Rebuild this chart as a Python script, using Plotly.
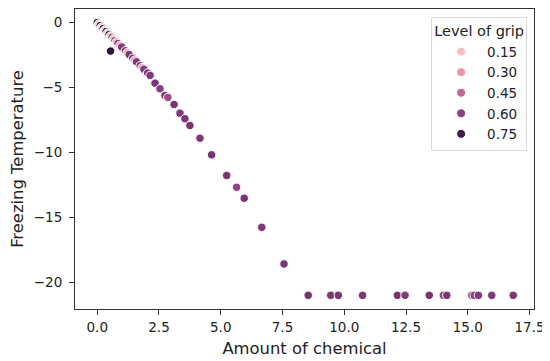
import plotly.graph_objects as go

# ---- data ----
amount = [
    0.00,
    0.06, 0.12, 0.18, 0.24, 0.30, 0.36, 0.42, 0.48, 0.54, 0.60, 0.66, 0.72, 0.78,
    0.84, 0.92, 0.99, 1.14, 1.22, 1.29, 1.44, 1.52, 1.59, 1.74, 1.82, 1.89, 2.04,
    0.54,
    2.14, 2.34, 2.54, 2.74, 2.86, 3.11, 3.35, 3.55, 3.75, 4.16, 4.63, 5.24, 5.64, 5.95,
    6.66, 7.56,
    8.54, 9.45, 9.76, 10.74, 12.15, 12.46, 13.44, 14.01, 14.15, 15.16, 15.26, 15.43,
    15.97, 16.84,
]
freezing_temp = [
    0.00,
    -0.11, -0.23, -0.34, -0.46, -0.57, -0.68, -0.80, -0.91, -1.03, -1.14, -1.25, -1.37,
    -1.48,
    -1.60, -1.75, -1.88, -2.17, -2.32, -2.45, -2.74, -2.89, -3.02, -3.31, -3.46, -3.59,
    -3.88,
    -2.19,
    -4.06, -4.66, -5.09, -5.61, -5.76, -6.30, -6.97, -7.40, -7.92, -8.90, -10.18, -11.77,
    -12.68, -13.52, -15.76, -18.58,
    -21.0, -21.0, -21.0, -21.0, -21.0, -21.0, -21.0, -21.0, -21.0, -21.0, -21.0, -21.0,
    -21.0, -21.0,
]
grip = [
    0.79,
    0.09, 0.78, 0.10, 0.77, 0.08, 0.76, 0.12, 0.74, 0.14, 0.66, 0.18, 0.63, 0.25,
    0.62, 0.30, 0.62, 0.62, 0.25, 0.63, 0.62, 0.30, 0.62, 0.63, 0.28, 0.62, 0.62,
    0.79,
    0.62, 0.64, 0.60, 0.63, 0.55, 0.64, 0.62, 0.63, 0.64, 0.63, 0.64, 0.64, 0.58, 0.64,
    0.63, 0.64,
    0.64, 0.63, 0.64, 0.63, 0.64, 0.62, 0.64, 0.58, 0.63, 0.56, 0.60, 0.62, 0.62, 0.63,
]
legend_levels = [0.15, 0.30, 0.45, 0.60, 0.75]
legend_labels = ["0.15", "0.30", "0.45", "0.60", "0.75"]
x_ticks = [0.0, 2.5, 5.0, 7.5, 10.0, 12.5, 15.0, 17.5]
y_ticks = [0, -5, -10, -15, -20]

G_MIN, G_MAX = 0.08, 0.80
# colour stops (grip value -> colour)
stop_levels = [0.08, 0.15, 0.30, 0.45, 0.60, 0.75, 0.80]
stop_colors = [(240, 218, 214), (242, 192, 192), (232, 152, 166), (198, 104, 150),
               (140, 62, 130), (62, 28, 76), (42, 20, 55)]


def rgb(c):
    return "rgb(%d,%d,%d)" % c


colorscale = [[(lv - G_MIN) / (G_MAX - G_MIN), rgb(c)] for lv, c in zip(stop_levels, stop_colors)]

fig = go.Figure()
fig.add_trace(go.Scatter(
    x=amount, y=freezing_temp, mode="markers", showlegend=False,
    marker=dict(color=grip, colorscale=colorscale, cmin=G_MIN, cmax=G_MAX,
                size=8.5, line=dict(color="white", width=1), opacity=1),
    hoverinfo="skip",
))
for lv, lab in zip(legend_levels, legend_labels):
    c = stop_colors[stop_levels.index(lv)]
    fig.add_trace(go.Scatter(
        x=[None], y=[None], mode="markers", name=lab,
        marker=dict(color=rgb(c), size=9, line=dict(color="white", width=1)),
    ))

axis_common = dict(showgrid=False, zeroline=False, showline=True, mirror=True,
                   linecolor="#333333", linewidth=1, ticks="outside", ticklen=5,
                   tickwidth=1, tickcolor="#333333", automargin=False,
                   tickfont=dict(family="DejaVu Sans", size=13.5, color="#222222"))

# the page body adds an 8px offset, so the figure is 8px smaller in each direction
fig.update_layout(
    width=542, height=353,
    margin=dict(l=67, r=16, t=1, b=52),
    paper_bgcolor="white", plot_bgcolor="white",
    font=dict(family="DejaVu Sans", color="#222222"),
    xaxis=dict(range=[-0.9, 17.68], tickvals=x_ticks, tickformat=".1f",
               ticklabelstandoff=1,
               title=dict(text="Amount of chemical", font=dict(size=16.4), standoff=8),
               **axis_common),
    yaxis=dict(range=[-22.05, 1.05], tickvals=y_ticks, ticklabelstandoff=4,
               title=dict(text="Freezing Temperature", font=dict(size=16.4), standoff=6),
               **axis_common),
    legend=dict(x=0.985, y=0.975, xanchor="right", yanchor="top",
                bgcolor="white", bordercolor="#d9d9d9", borderwidth=1,
                font=dict(size=13.5), itemwidth=42, indentation=3,
                title=dict(text="Level of grip", font=dict(size=14.5), side="top center")),
)

fig.write_html("out.html")
